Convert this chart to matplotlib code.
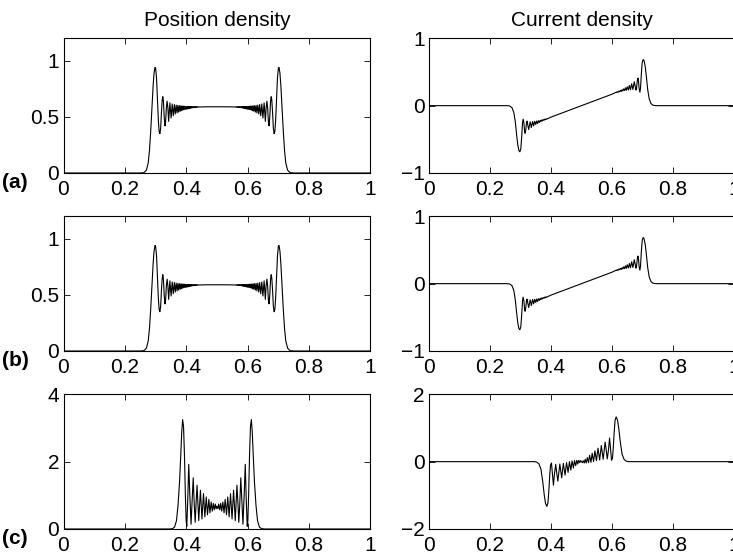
import numpy as np
import matplotlib
matplotlib.use("Agg")
import matplotlib.pyplot as plt

plt.rcParams['font.family'] = ['Liberation Sans', 'DejaVu Sans']

# ---------------- data (left half, x in [0, 0.5]; curves are mirror-symmetric) ----
# (a) position density: (x, density)
pos_a = [(0.0, 0.0), (0.25, 0.0), (0.262, 0.003), (0.270, 0.025), (0.276, 0.09),
         (0.280, 0.20), (0.284, 0.37), (0.288, 0.58), (0.292, 0.78), (0.295, 0.89),
         (0.298, 0.94), (0.300, 0.935), (0.303, 0.85), (0.306, 0.66), (0.309, 0.47),
         (0.3115, 0.37), (0.314, 0.35), (0.3165, 0.40), (0.319, 0.54), (0.3215, 0.65),
         (0.3235, 0.68), (0.3255, 0.64), (0.328, 0.50), (0.3305, 0.42), (0.3325, 0.45),
         (0.335, 0.58), (0.3375, 0.64), (0.340, 0.58), (0.3425, 0.46), (0.3465, 0.625),
         (0.3505, 0.49), (0.354, 0.615), (0.3575, 0.51), (0.361, 0.61), (0.364, 0.525),
         (0.367, 0.605), (0.370, 0.535), (0.3725, 0.602), (0.375, 0.543), (0.3775, 0.600),
         (0.380, 0.55), (0.382, 0.598), (0.384, 0.555), (0.386, 0.597), (0.388, 0.56),
         (0.390, 0.596), (0.392, 0.563), (0.394, 0.595), (0.396, 0.566), (0.398, 0.594),
         (0.400, 0.568), (0.402, 0.593), (0.404, 0.571), (0.4055, 0.592), (0.407, 0.573),
         (0.4085, 0.592), (0.410, 0.575), (0.4115, 0.591), (0.413, 0.577), (0.4145, 0.591),
         (0.416, 0.579), (0.4175, 0.591), (0.419, 0.580), (0.4205, 0.590), (0.422, 0.582),
         (0.4235, 0.590), (0.425, 0.583), (0.4265, 0.590), (0.428, 0.584), (0.4295, 0.590),
         (0.431, 0.585), (0.4325, 0.590), (0.434, 0.586), (0.4355, 0.590), (0.437, 0.587),
         (0.4385, 0.590), (0.440, 0.588), (0.450, 0.589), (0.460, 0.5895), (0.480, 0.590),
         (0.500, 0.590)]

# (a) current density: (x, current)  (antisymmetric about x=0.5)
cur_a = [(0.0, 0.0), (0.255, 0.0), (0.265, -0.005), (0.272, -0.03), (0.278, -0.10),
         (0.283, -0.24), (0.287, -0.42), (0.291, -0.58), (0.295, -0.67), (0.298, -0.685),
         (0.301, -0.64), (0.304, -0.46), (0.3065, -0.26), (0.3085, -0.20), (0.311, -0.25),
         (0.313, -0.36), (0.315, -0.41), (0.317, -0.37), (0.3195, -0.26), (0.3215, -0.23),
         (0.324, -0.29), (0.327, -0.355), (0.3315, -0.24), (0.3355, -0.325), (0.3395, -0.235),
         (0.343, -0.30), (0.3465, -0.232), (0.350, -0.28), (0.353, -0.228), (0.356, -0.265),
         (0.359, -0.223), (0.362, -0.25), (0.3645, -0.218), (0.367, -0.237), (0.3695, -0.212),
         (0.372, -0.227), (0.3745, -0.206), (0.377, -0.218), (0.3795, -0.200), (0.382, -0.208),
         (0.384, -0.195), (0.386, -0.200), (0.400, -0.170), (0.500, 0.0)]

# (b) same physical situation, nearly identical curves
pos_b = list(pos_a)
cur_b = list(cur_a)

# (c) position density
pos_c = [(0.0, 0.0), (0.345, 0.0), (0.355, 0.01), (0.362, 0.06), (0.368, 0.25),
         (0.373, 0.70), (0.378, 1.40), (0.382, 2.20), (0.385, 2.85), (0.388, 3.25),
         (0.391, 3.05), (0.394, 2.20), (0.397, 1.00), (0.3995, 0.25), (0.4015, 0.08),
         (0.4045, 0.80), (0.408, 1.92), (0.4115, 1.00), (0.4155, 0.14), (0.419, 0.85),
         (0.4225, 1.52), (0.426, 0.70), (0.429, 0.20), (0.432, 0.80), (0.435, 1.30),
         (0.4405, 0.25), (0.446, 1.15), (0.451, 0.30), (0.456, 1.05), (0.4605, 0.36),
         (0.465, 0.95), (0.469, 0.42), (0.4735, 0.88), (0.477, 0.48), (0.481, 0.80),
         (0.4845, 0.53), (0.488, 0.76), (0.491, 0.57), (0.4945, 0.74), (0.497, 0.60),
         (0.500, 0.68)]

# (c) current density
cur_c = [(0.0, 0.0), (0.345, 0.0), (0.352, -0.01), (0.360, -0.06), (0.367, -0.22),
         (0.373, -0.60), (0.378, -1.00), (0.382, -1.24), (0.3865, -1.33), (0.390, -1.22),
         (0.393, -0.85), (0.396, -0.38), (0.3985, -0.10), (0.4015, -0.04), (0.4045, -0.35),
         (0.408, -0.70), (0.4115, -0.35), (0.4155, -0.08), (0.419, -0.35), (0.4225, -0.58),
         (0.429, -0.07), (0.435, -0.48), (0.4405, -0.05), (0.446, -0.40), (0.451, -0.03),
         (0.456, -0.32), (0.4605, 0.0), (0.465, -0.25), (0.469, 0.02), (0.4735, -0.19),
         (0.477, 0.03), (0.481, -0.12), (0.4845, 0.04), (0.488, -0.07), (0.491, 0.04),
         (0.4945, -0.03), (0.497, 0.03), (0.500, 0.0)]

row_labels = ['(a)', '(b)', '(c)']
col_titles = ['Position density', 'Current density']
x_ticks = [0, 0.2, 0.4, 0.6, 0.8, 1]
x_ticklabels = ['0', '0.2', '0.4', '0.6', '0.8', '1']
pos_ylims = [(0, 1.2), (0, 1.2), (0, 4)]
pos_yticks = [[0, 0.5, 1], [0, 0.5, 1], [0, 2, 4]]
pos_yticklabels = [['0', '0.5', '1'], ['0', '0.5', '1'], ['0', '2', '4']]
cur_ylims = [(-1, 1), (-1, 1), (-2, 2)]
cur_yticks = [[-1, 0, 1], [-1, 0, 1], [-2, 0, 2]]
cur_yticklabels = [['\u22121', '0', '1'], ['\u22121', '0', '1'], ['\u22122', '0', '2']]


def full_curve(pairs, sign=1.0):
    arr = np.array(pairs, dtype=float)
    xs, ys = arr[:, 0], arr[:, 1]
    xr = 1.0 - xs[::-1][1:]
    yr = sign * ys[::-1][1:]
    return np.concatenate([xs, xr]), np.concatenate([ys, yr])


W, H = 733, 555
fig = plt.figure(figsize=(W / 100, H / 100), dpi=100)

col_left = [63.5, 429.0]
col_width = [307.0, 305.0]
row_top = [38.3, 216.3, 394.3]
ax_h = 134.7

pos_data = [pos_a, pos_b, pos_c]
cur_data = [cur_a, cur_b, cur_c]

for r in range(3):
    for c in range(2):
        ax = fig.add_axes([col_left[c] / W, 1 - (row_top[r] + ax_h) / H,
                           col_width[c] / W, ax_h / H])
        if c == 0:
            x, y = full_curve(pos_data[r], 1.0)
            ax.set_ylim(*pos_ylims[r])
            ax.set_yticks(pos_yticks[r])
            ax.set_yticklabels(pos_yticklabels[r])
        else:
            x, y = full_curve(cur_data[r], -1.0)
            ax.set_ylim(*cur_ylims[r])
            ax.set_yticks(cur_yticks[r])
            ax.set_yticklabels(cur_yticklabels[r])
        ax.plot(x, y, color='black', lw=0.8)
        ax.set_xlim(0, 1)
        ax.set_xticks(x_ticks)
        ax.set_xticklabels(x_ticklabels)
        ax.tick_params(direction='in', top=True, right=True, length=4.5, width=0.6,
                       labelsize=15)
        ax.tick_params(axis='x', pad=5)
        ax.tick_params(axis='y', pad=3)
        for s in ax.spines.values():
            s.set_linewidth(0.8)
        if r == 0:
            ax.set_title(col_titles[c], fontsize=15, pad=9)
    fig.text(2 / W, 1 - (row_top[r] + ax_h + 10) / H, row_labels[r],
             fontsize=15, fontweight='bold', ha='left', va='center')

fig.savefig('out.png', dpi=100)
